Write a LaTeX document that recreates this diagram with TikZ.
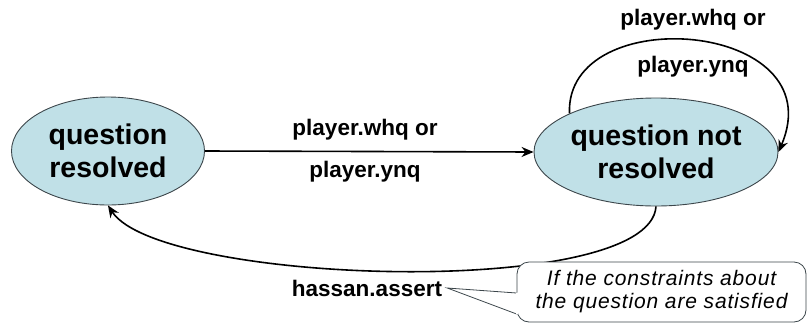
\documentclass[tikz,border=0pt]{standalone}
\usepackage{fontspec}
\setmainfont{Liberation Sans}
\usetikzlibrary{shapes.geometric,arrows.meta}
\definecolor{statefill}{RGB}{192,224,231}
\definecolor{stateline}{RGB}{60,70,75}
\tikzset{
  state/.style={ellipse, draw=stateline, line width=0.9pt, fill=statefill, inner sep=0pt,
    align=center, font=\fontsize{28.5}{33}\selectfont\bfseries, text=black},
  lbl/.style={font=\fontsize{22.5}{26}\selectfont\bfseries, inner sep=1pt},
  conn/.style={line width=1.6pt, -{Stealth[length=12pt,width=10pt]}},
  note/.style={draw=stateline, line width=0.8pt, rounded corners=12pt, fill=white,
    align=center, font=\addfontfeatures{LetterSpace=4}\fontsize{21}{23}\selectfont\itshape, inner sep=0pt}
}
\begin{document}
\begin{tikzpicture}[x=1pt,y=-1pt]
\useasboundingbox (0,0) rectangle (809,325);
\node[state, minimum width=193pt, minimum height=108pt] (L) at (108,151) {question\\resolved};
\node[state, minimum width=244pt, minimum height=108pt] (R) at (656,152) {question not\\resolved};
% straight transition
\draw[conn] (L.east) -- (R.west);
\node[lbl] (t1a) at (365,130) {player.whq or};
\node[lbl] (t1b) at (365,172) {player.ynq};
% self loop
\draw[conn] (R.156) .. controls (565,0) and (835,20) .. (R.east);
\node[lbl] (t2a) at (693,20) {player.whq or};
\node[lbl] (t2b) at (693,67) {player.ynq};
% back transition
\draw[conn] (R.south) .. controls (650,300) and (160,285) .. (L.south);
\node[lbl] (t3) at (367,288) {hassan.assert};
% callout
\node[note, minimum width=289pt, minimum height=60pt] (C) at (661.5,292)
  {If the constraints about\\the question are satisfied};
\coordinate (tip) at ([xshift=4pt]t3.east);
\coordinate (p1) at ([yshift=-22pt]C.west);
\coordinate (p2) at ([yshift=-1pt]C.west);
\fill[white] (tip) -- ([xshift=6pt]p1) -- ([xshift=6pt]p2) -- cycle;
\draw[draw=stateline, line width=0.8pt] (p1) -- (tip) -- (p2);
\fill[white] ([xshift=-1pt]p1) rectangle ([xshift=1.5pt]p2);
\end{tikzpicture}
\end{document}
